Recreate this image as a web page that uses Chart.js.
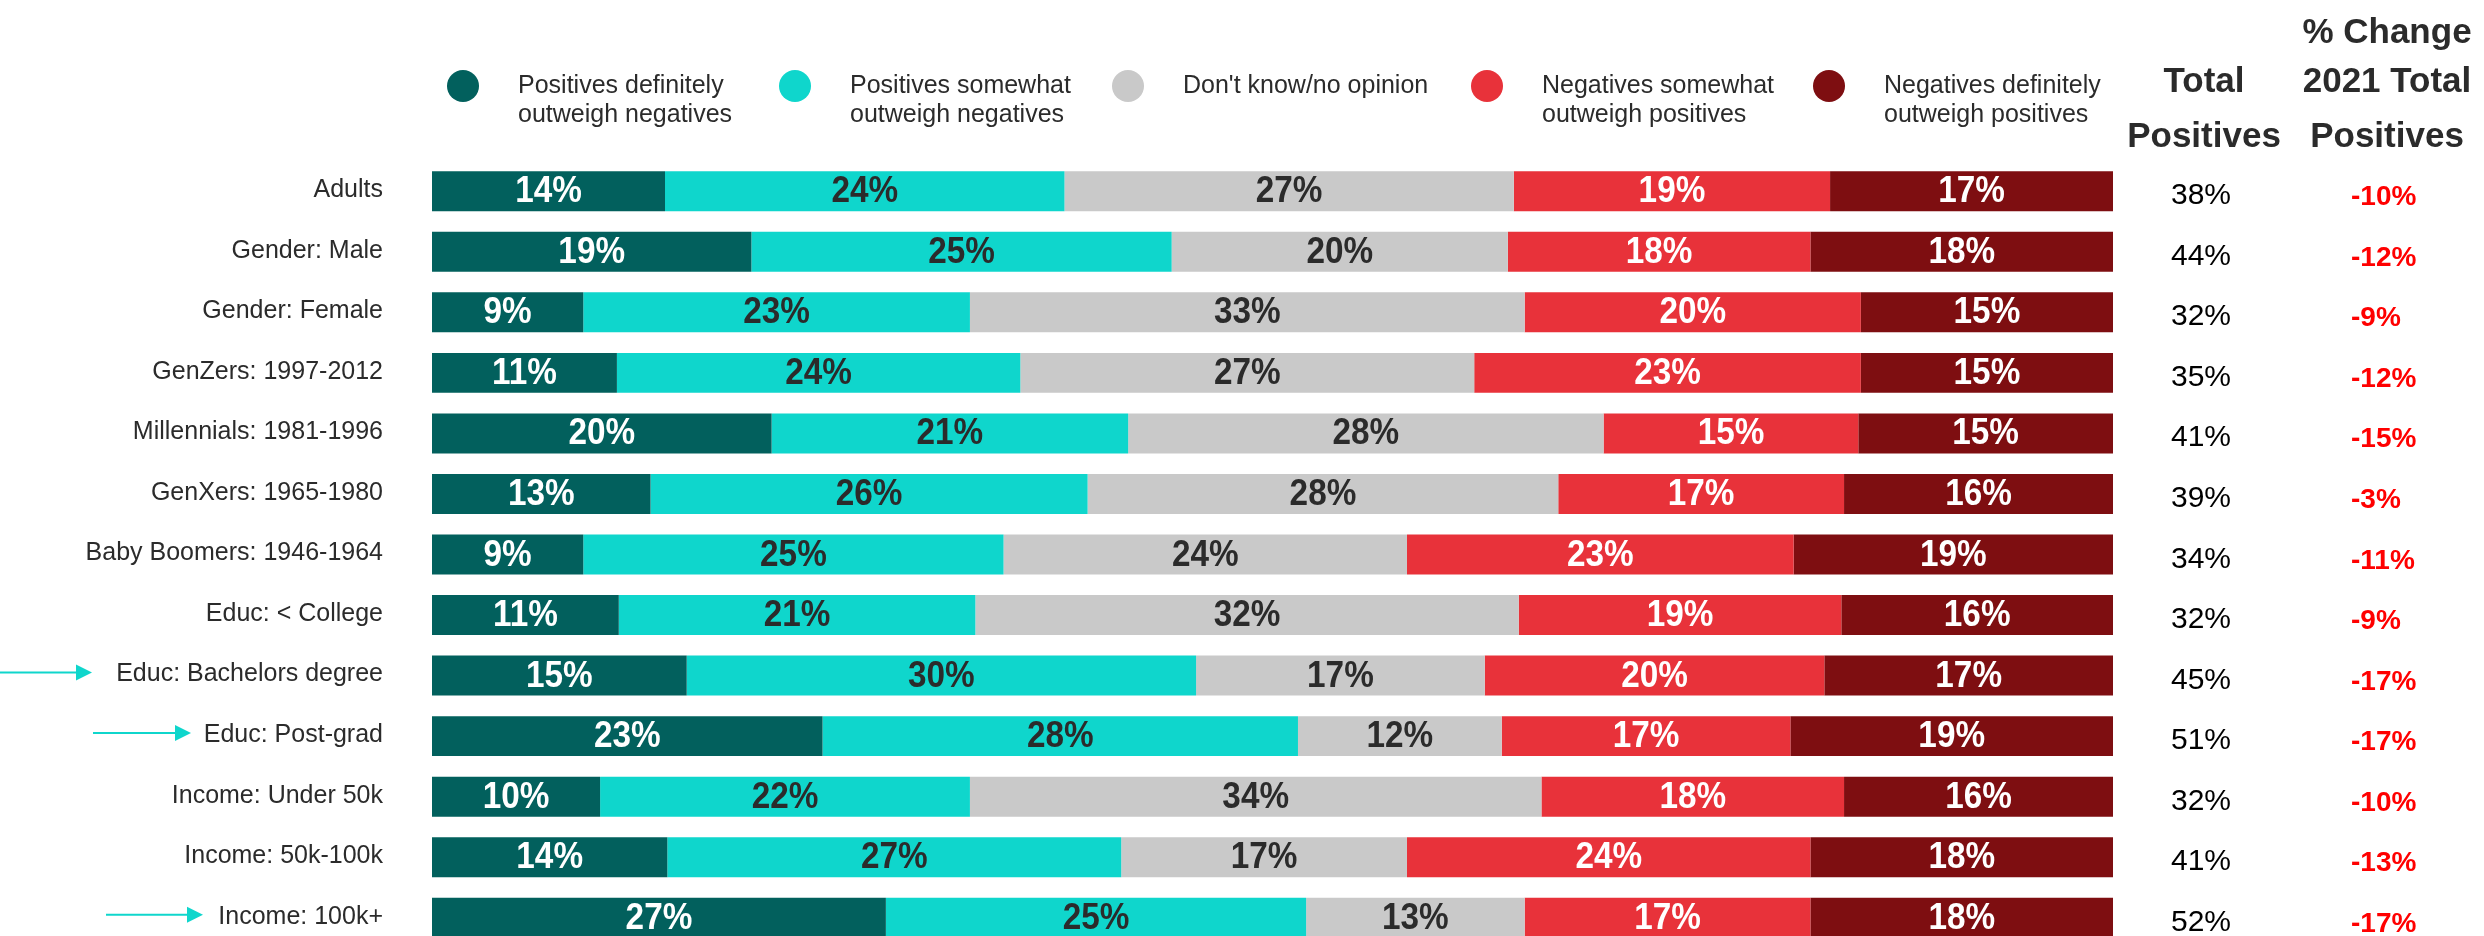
<!DOCTYPE html>
<html>
<head>
<meta charset="utf-8">
<title>Positives vs negatives</title>
<script src="https://cdn.jsdelivr.net/npm/chart.js@4.4.0/dist/chart.umd.min.js"></script>
<style>
  html, body { margin: 0; padding: 0; background: #fff; overflow: hidden; }
  #wrap { width: 2484px; height: 936px; overflow: hidden; }
</style>
</head>
<body>
<div id="wrap"><canvas id="chart" width="2484" height="1020"></canvas></div>
<script>
// data
const categories = ['Adults', 'Gender: Male', 'Gender: Female', 'GenZers: 1997-2012', 'Millennials: 1981-1996',
  'GenXers: 1965-1980', 'Baby Boomers: 1946-1964', 'Educ: < College', 'Educ: Bachelors degree',
  'Educ: Post-grad', 'Income: Under 50k', 'Income: 50k-100k', 'Income: 100k+'];
const posDefinitely = [14, 19, 9, 11, 20, 13, 9, 11, 15, 23, 10, 14, 27];
const posSomewhat   = [24, 25, 23, 24, 21, 26, 25, 21, 30, 28, 22, 27, 25];
const dontKnow      = [27, 20, 33, 27, 28, 28, 24, 32, 17, 12, 34, 17, 13];
const negSomewhat   = [19, 18, 20, 23, 15, 17, 23, 19, 20, 17, 18, 24, 17];
const negDefinitely = [17, 18, 15, 15, 15, 16, 19, 16, 17, 19, 16, 18, 18];
const totalPositives = [38, 44, 32, 35, 41, 39, 34, 32, 45, 51, 32, 41, 52];
const change2021     = [-10, -12, -9, -12, -15, -3, -11, -9, -17, -17, -10, -13, -17];
const highlighted = ['Educ: Bachelors degree', 'Educ: Post-grad', 'Income: 100k+'];

const seriesLabels = [
  ['Positives definitely', 'outweigh negatives'],
  ['Positives somewhat', 'outweigh negatives'],
  ["Don't know/no opinion"],
  ['Negatives somewhat', 'outweigh positives'],
  ['Negatives definitely', 'outweigh positives']
];
const series = [posDefinitely, posSomewhat, dontKnow, negSomewhat, negDefinitely];
const colors = ['#02605d', '#0fd6cc', '#c9c9c9', '#e8323a', '#7e0e11'];
const textColors = ['#ffffff', '#2b2b2b', '#2b2b2b', '#ffffff', '#ffffff'];

const FONT = '"Liberation Sans", Arial, sans-serif';
const legendX = [463, 795, 1128, 1487, 1829];
// arrow start / tip x for the highlighted rows
const arrowSpans = [[0, 92], [93, 191], [106, 203]];

// each bar is drawn as share of its row so all rows end at the same place
const rowSums = categories.map((c, i) => series.reduce((s, arr) => s + arr[i], 0));

function drawText(ctx, text, x, y, font, color, align, sx) {
  ctx.save();
  ctx.font = font;
  ctx.fillStyle = color;
  ctx.textAlign = align;
  ctx.textBaseline = 'alphabetic';
  ctx.translate(x, y);
  ctx.scale(sx || 1, 1);
  ctx.fillText(text, 0, 0);
  ctx.restore();
}

const extras = {
  id: 'extras',
  afterDatasetsDraw(chart) {
    const ctx = chart.ctx;
    chart.data.datasets.forEach((ds, di) => {
      chart.getDatasetMeta(di).data.forEach((bar, i) => {
        const cx = (bar.x + bar.base) / 2;
        drawText(ctx, series[di][i] + '%', cx, bar.y + 11, 'bold 37px ' + FONT, textColors[di], 'center', 0.9);
      });
    });
  },
  afterDraw(chart) {
    const ctx = chart.ctx;
    const yScale = chart.scales.y;

    categories.forEach((c, i) => {
      const cy = yScale.getPixelForValue(i);
      drawText(ctx, totalPositives[i] + '%', 2171, cy + 13, '30px ' + FONT, '#000000', 'left');
      drawText(ctx, change2021[i] + '%', 2351, cy + 14, 'bold 28px ' + FONT, '#ff0000', 'left');
    });

    // column headers
    const hFont = 'bold 35px ' + FONT;
    drawText(ctx, 'Total', 2204, 92, hFont, '#2b2b2b', 'center');
    drawText(ctx, 'Positives', 2204, 147, hFont, '#2b2b2b', 'center');
    drawText(ctx, '% Change', 2387, 43, hFont, '#2b2b2b', 'center');
    drawText(ctx, '2021 Total', 2387, 92, hFont, '#2b2b2b', 'center');
    drawText(ctx, 'Positives', 2387, 147, hFont, '#2b2b2b', 'center');

    // legend
    seriesLabels.forEach((lines, k) => {
      ctx.save();
      ctx.fillStyle = colors[k];
      ctx.beginPath();
      ctx.arc(legendX[k], 86, 16, 0, Math.PI * 2);
      ctx.fill();
      ctx.restore();
      lines.forEach((ln, j) => {
        drawText(ctx, ln, legendX[k] + 55, 93 + j * 29, '25px ' + FONT, '#2b2b2b', 'left');
      });
    });

    // arrows pointing at highlighted rows
    ctx.save();
    ctx.strokeStyle = '#0fd6cc';
    ctx.fillStyle = '#0fd6cc';
    ctx.lineWidth = 2;
    highlighted.forEach((name, k) => {
      const cy = yScale.getPixelForValue(categories.indexOf(name)) - 3;
      const [start, tip] = arrowSpans[k];
      ctx.beginPath();
      ctx.moveTo(start, cy);
      ctx.lineTo(tip - 14, cy);
      ctx.stroke();
      ctx.beginPath();
      ctx.moveTo(tip, cy);
      ctx.lineTo(tip - 16, cy - 8);
      ctx.lineTo(tip - 16, cy + 8);
      ctx.closePath();
      ctx.fill();
    });
    ctx.restore();
  }
};

new Chart(document.getElementById('chart'), {
  type: 'bar',
  data: {
    labels: categories,
    datasets: series.map((arr, di) => ({
      label: seriesLabels[di].join(' '),
      data: arr.map((v, i) => v / rowSums[i] * 100),
      backgroundColor: colors[di],
      borderWidth: 0,
      barPercentage: 0.66,
      categoryPercentage: 1.0
    }))
  },
  options: {
    indexAxis: 'y',
    responsive: false,
    animation: false,
    devicePixelRatio: 1,
    events: [],
    // bottom padding larger than the axis label padding so the plot ends at 948 (last bar is cut by the window like the original)
    layout: { padding: { left: 0, right: 371, top: 161, bottom: 72 } },
    plugins: {
      legend: { display: false },
      tooltip: { enabled: false }
    },
    scales: {
      x: { stacked: true, min: 0, max: 100, display: false },
      y: {
        stacked: true,
        grid: { display: false, drawTicks: false },
        border: { display: false },
        ticks: {
          padding: 49,
          labelOffset: -1,
          color: '#2b2b2b',
          font: { family: FONT, size: 25 }
        },
        afterFit(scale) { scale.width = 432; }
      }
    }
  },
  plugins: [extras]
});
</script>
</body>
</html>
